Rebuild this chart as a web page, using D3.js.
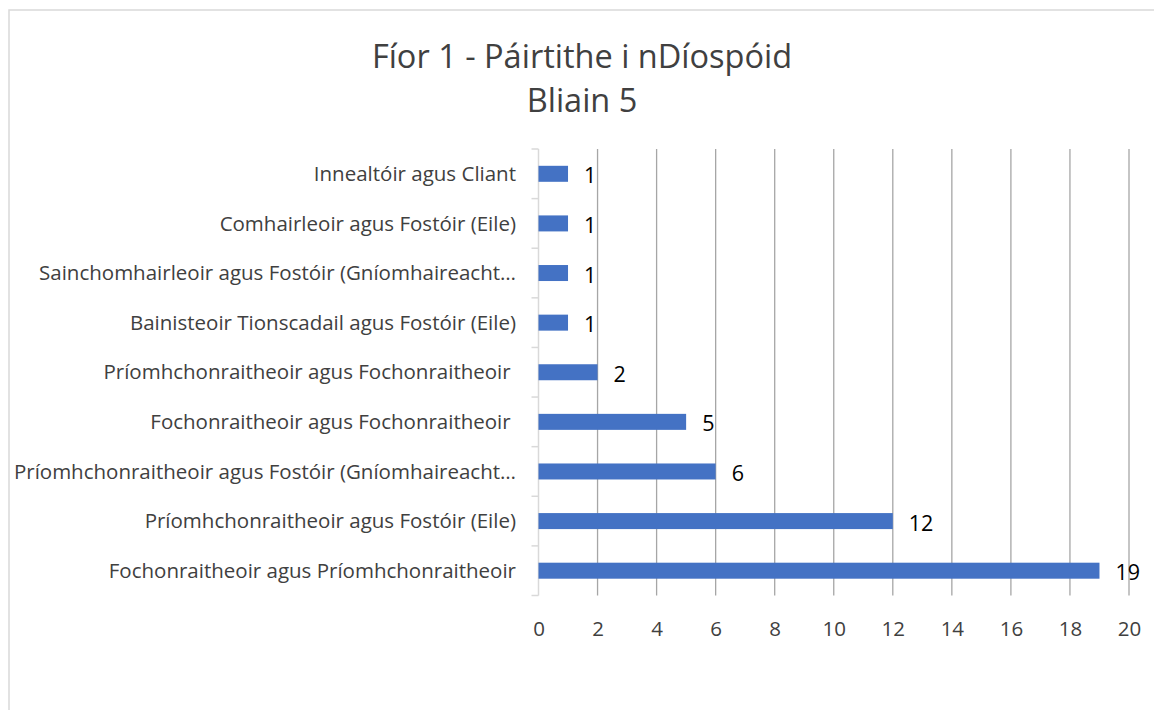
<!DOCTYPE html>
<html>
<head>
<meta charset="utf-8">
<script src="https://cdn.jsdelivr.net/npm/d3@7"></script>
<style>
  html, body { margin: 0; padding: 0; background: #fff; }
  svg { display: block; }
  text { font-family: "Open Sans", sans-serif; }
</style>
</head>
<body>
<svg id="chart" width="1154" height="710"></svg>
<script>
const titleLines = ["Fíor 1 - Páirtithe i nDíospóid", "Bliain 5"];
const categories = [
  "Innealtóir agus Cliant",
  "Comhairleoir agus Fostóir (Eile)",
  "Sainchomhairleoir agus Fostóir (Gníomhaireacht…",
  "Bainisteoir Tionscadail agus Fostóir (Eile)",
  "Príomhchonraitheoir agus Fochonraitheoir ",
  "Fochonraitheoir agus Fochonraitheoir ",
  "Príomhchonraitheoir agus Fostóir (Gníomhaireacht…",
  "Príomhchonraitheoir agus Fostóir (Eile)",
  "Fochonraitheoir agus Príomhchonraitheoir"
];
const values = [1, 1, 1, 1, 2, 5, 6, 12, 19];
const xTicks = [0, 2, 4, 6, 8, 10, 12, 14, 16, 18, 20];

const svg = d3.select("#chart");

// chart frame
svg.append("rect")
  .attr("x", 9).attr("y", 10)
  .attr("width", 1160).attr("height", 720)
  .attr("fill", "#fff")
  .attr("stroke", "#D9D9D9")
  .attr("stroke-width", 1.5);

// title
svg.append("g").selectAll("text")
  .data(titleLines)
  .join("text")
  .attr("x", 582)
  .attr("y", (d, i) => 68 + i * 44)
  .attr("text-anchor", "middle")
  .attr("font-size", 32.5)
  .attr("fill", "#404040")
  .text(d => d);

const x = d3.scaleLinear().domain([0, 20]).range([538.5, 1129]);
const y = d3.scaleBand().domain(categories).range([149, 595.5]);
const barH = 16;

// gridlines
svg.append("g").selectAll("line")
  .data(xTicks.filter(t => t !== 0))
  .join("line")
  .attr("x1", d => x(d)).attr("x2", d => x(d))
  .attr("y1", y.range()[0]).attr("y2", y.range()[1])
  .attr("stroke", "#A6A6A6")
  .attr("stroke-width", 1.3);

// x axis labels (no line)
const xAxis = d3.axisBottom(x).tickValues(xTicks).tickSize(0).tickPadding(0);
const gx = svg.append("g")
  .attr("transform", `translate(0,${y.range()[1]})`)
  .call(xAxis);
gx.select(".domain").remove();
gx.selectAll("text")
  .attr("font-family", "'Open Sans', sans-serif")
  .attr("font-size", 20.5)
  .attr("fill", "#404040")
  .attr("y", 33)
  .attr("dy", "0.35em");

// category axis line + ticks at band boundaries
const boundaries = d3.range(categories.length + 1).map(i => y.range()[0] + i * y.step());
const gy = svg.append("g");
gy.append("line")
  .attr("x1", x(0)).attr("x2", x(0))
  .attr("y1", y.range()[0]).attr("y2", y.range()[1])
  .attr("stroke", "#D9D9D9").attr("stroke-width", 1.5);
gy.selectAll("line.tk")
  .data(boundaries)
  .join("line")
  .attr("class", "tk")
  .attr("x1", x(0) - 7).attr("x2", x(0))
  .attr("y1", d => d).attr("y2", d => d)
  .attr("stroke", "#D9D9D9").attr("stroke-width", 1.5);

// category labels
svg.append("g").selectAll("text")
  .data(categories)
  .join("text")
  .attr("x", 516)
  .attr("y", d => y(d) + y.bandwidth() / 2)
  .attr("dy", "0.35em")
  .attr("text-anchor", "end")
  .attr("font-size", 20.5)
  .attr("fill", "#404040")
  .style("white-space", "pre")
  .text(d => d);

// bars
svg.append("g").selectAll("rect")
  .data(values)
  .join("rect")
  .attr("x", x(0))
  .attr("y", (d, i) => y(categories[i]) + y.bandwidth() / 2 - barH / 2)
  .attr("width", d => x(d) - x(0))
  .attr("height", barH)
  .attr("fill", "#4472C4");

// data labels
svg.append("g").selectAll("text")
  .data(values)
  .join("text")
  .attr("x", d => x(d) + 16)
  .attr("y", (d, i) => y(categories[i]) + y.bandwidth() / 2 + 2)
  .attr("dy", "0.35em")
  .attr("font-size", 21.5)
  .attr("fill", "#000")
  .text(d => d);
</script>
</body>
</html>
